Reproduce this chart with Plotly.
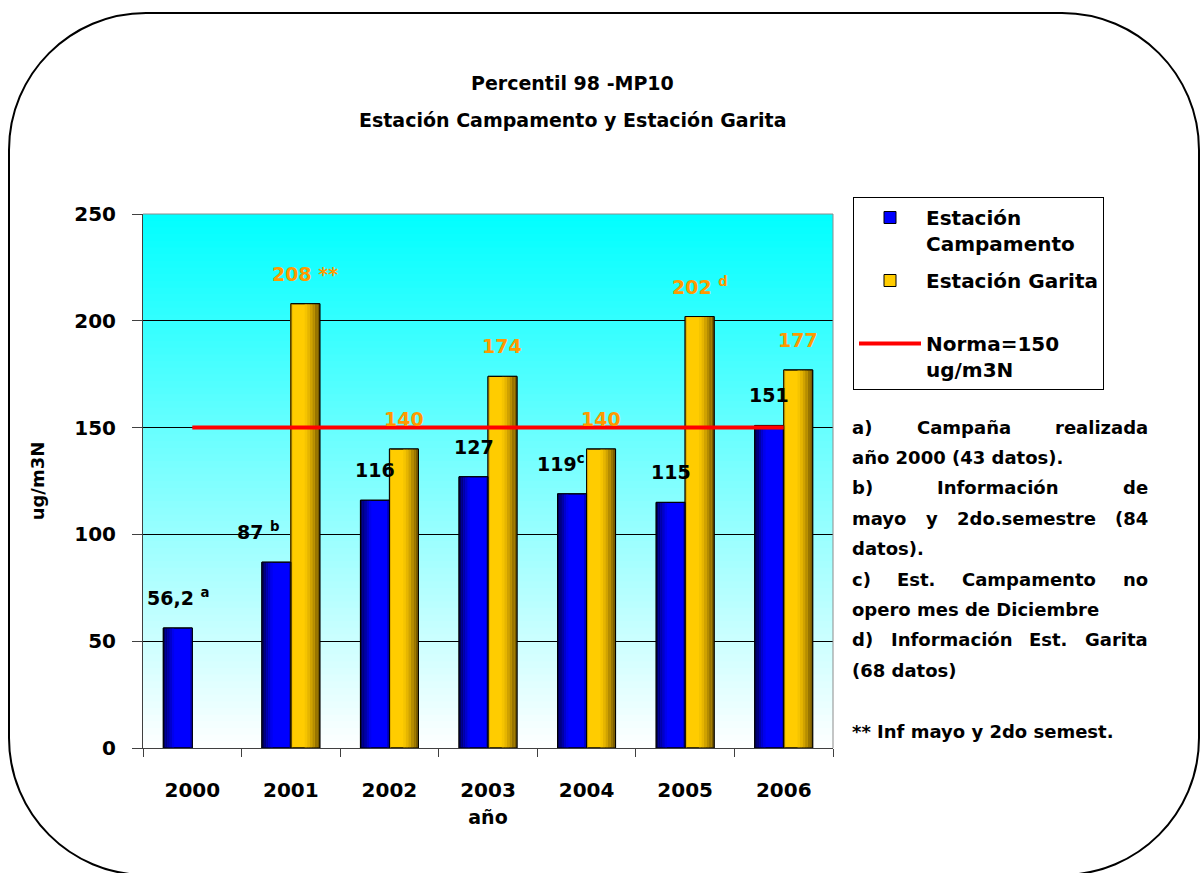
import plotly.graph_objects as go

# ---------------------------------------------------------------- data
years = ["2000", "2001", "2002", "2003", "2004", "2005", "2006"]
campamento = [56.2, 87, 116, 127, 119, 115, 151]
garita = [None, 208, 140, 174, 140, 202, 177]
norma = [150, 150, 150, 150, 150, 150, 150]

# footnote marks appended to the value labels
campamento_marks = [" <sup>a</sup>", " <sup>b</sup>", "", "", "<sup>c</sup>", "", ""]
garita_marks = ["", " **", "", "", "", " <sup>d</sup>", ""]

# side notes: (text, justified)
notes = [
    ("a) Campaña realizada", True),
    ("año 2000 (43 datos).", False),
    ("b) Información de", True),
    ("mayo y 2do.semestre (84", True),
    ("datos).", False),
    ("c) Est. Campamento no", True),
    ("opero mes de Diciembre", False),
    ("d) Información Est. Garita", True),
    ("(68 datos)", False),
    ("", False),
    ("** Inf mayo y 2do semest.", False),
]

# ---------------------------------------------------------------- geometry
W, H = 1200, 873
ML, MR, MT, MB = 143, 367, 214, 125
PW = W - ML - MR
PH = H - MT - MB
FONT = "DejaVu Sans"
BAR_W = 0.294


def fx(px):
    return (px - ML) / PW


def fy(py):
    return (H - MB - py) / PH


def fmt(v):
    return f"{v:g}".replace(".", ",")


fig = go.Figure()

# ---------------------------------------------------------------- bars
fig.add_trace(go.Bar(
    x=years, y=campamento, offset=-BAR_W, width=BAR_W,
    marker=dict(color="#0000FF", line=dict(color="black", width=1)),
    name="Estación<br>Campamento", legendgroup="camp", hoverinfo="skip"))
fig.add_trace(go.Bar(
    x=years, y=garita, offset=0, width=BAR_W,
    marker=dict(color="#FFCC00", line=dict(color="black", width=1)),
    name="Estación Garita<br> ", legendgroup="gar", hoverinfo="skip"))

# cylinder-like shading strips
blue_strips = [(-BAR_W + i * 0.022, 0.022, c) for i, c in
               enumerate(["#00005A", "#000080", "#0000A6", "#0000CC", "#0000EE"])]
blue_strips.append((-0.016, 0.016, "#0000C8"))
gold_strips = [(0.0, 0.016, "#E0B000")]
gold_strips += [(0.14 + i * 0.02567, 0.02567, c) for i, c in
                enumerate(["#F5C400", "#E6B500", "#D0A200", "#B58C00", "#987400", "#7A5C00"])]
for off, wd, col in blue_strips:
    fig.add_trace(go.Bar(x=years, y=campamento, offset=off, width=wd,
                         marker=dict(color=col, line=dict(width=0)),
                         showlegend=False, hoverinfo="skip"))
for off, wd, col in gold_strips:
    fig.add_trace(go.Bar(x=years, y=garita, offset=off, width=wd,
                         marker=dict(color=col, line=dict(width=0)),
                         showlegend=False, hoverinfo="skip"))
# outlines on top of the shading
for vals, off in ((campamento, -BAR_W), (garita, 0)):
    fig.add_trace(go.Bar(x=years, y=vals, offset=off, width=BAR_W,
                         marker=dict(color="rgba(0,0,0,0)", line=dict(color="black", width=1)),
                         showlegend=False, hoverinfo="skip"))

# limit line
fig.add_trace(go.Scatter(
    x=years, y=norma, mode="lines", line=dict(color="#FF0000", width=4),
    name="Norma=150<br>ug/m3N", legendgroup="norma", hoverinfo="skip"))

# ---------------------------------------------------------------- value labels
annotations = []
label_nudge = {("c", 1): -18, ("c", 4): -11}
for i, v in enumerate(campamento):
    if v is None:
        continue
    annotations.append(dict(
        x=i - BAR_W / 2, y=v, xref="x", yref="y", text=fmt(v) + campamento_marks[i],
        showarrow=False, yanchor="bottom", yshift=17, xshift=label_nudge.get(("c", i), 0),
        font=dict(family=FONT, size=19, color="black", weight="bold")))
for i, v in enumerate(garita):
    if v is None:
        continue
    annotations.append(dict(
        x=i + BAR_W / 2, y=v, xref="x", yref="y", text=fmt(v) + garita_marks[i],
        showarrow=False, yanchor="bottom", yshift=17, xshift=label_nudge.get(("g", i), 0),
        font=dict(family=FONT, size=19, color="#FF9900", weight="bold")))

# ---------------------------------------------------------------- titles
for text, ypx in (("Percentil 98 -MP10", 83), ("Estación Campamento y Estación Garita", 120)):
    annotations.append(dict(
        x=fx(572), y=fy(ypx), xref="paper", yref="paper", text=text, showarrow=False,
        xanchor="center", yanchor="middle",
        font=dict(family=FONT, size=19, color="black", weight="bold")))

# ---------------------------------------------------------------- side notes
NOTE_SIZE = 18
CHAR_EM = {
    " ": .348, "a": .675, "b": .716, "c": .593, "d": .716, "e": .678, "f": .435,
    "g": .716, "h": .712, "i": .343, "j": .343, "k": .665, "l": .343, "m": 1.042,
    "n": .712, "o": .687, "p": .716, "q": .716, "r": .493, "s": .595, "t": .478,
    "u": .712, "v": .652, "w": .924, "x": .645, "y": .652, "z": .582, "ñ": .712,
    "ó": .687, "(": .457, ")": .457, ".": .380, "*": .500, "A": .774, "C": .734,
    "D": .830, "E": .683, "G": .821, "I": .372, "N": .837, "M": .995, "P": .733,
}


def text_width(s):
    return sum(CHAR_EM.get(ch, .696) for ch in s) * NOTE_SIZE


NOTE_LEFT, NOTE_RIGHT = 850, 1146
NOTE_TOP, NOTE_STEP = 427, 30.4
note_font = dict(family=FONT, size=NOTE_SIZE, color="black", weight="bold")
for row, (line, justified) in enumerate(notes):
    if not line:
        continue
    ypx = NOTE_TOP + row * NOTE_STEP
    words = line.split(" ")
    if justified and len(words) > 1:
        widths = [text_width(w) for w in words]
        gap = (NOTE_RIGHT - NOTE_LEFT - sum(widths)) / (len(words) - 1)
        xpos = NOTE_LEFT
        for w, wd in zip(words, widths):
            annotations.append(dict(
                x=fx(xpos), y=fy(ypx), xref="paper", yref="paper", text=w,
                showarrow=False, xanchor="left", yanchor="middle", font=note_font))
            xpos += wd + gap
    else:
        annotations.append(dict(
            x=fx(NOTE_LEFT), y=fy(ypx), xref="paper", yref="paper", text=line,
            showarrow=False, xanchor="left", yanchor="middle", font=note_font))

# ---------------------------------------------------------------- shapes
shapes = []
# vertical cyan-to-white gradient behind the plot area (bands overlap to hide seams)
N_BANDS = 80
for k in range(N_BANDS):
    t = (k + 0.5) / N_BANDS
    r = int(round(255 * (1 - t)))
    shapes.append(dict(
        type="rect", xref="x domain", yref="y domain", x0=0, x1=1,
        y0=k / N_BANDS, y1=min(1.0, (k + 1.6) / N_BANDS), layer="below",
        fillcolor=f"rgb({r},255,255)", line=dict(width=0)))
# grey top and right edges of the plot area
shapes.append(dict(type="line", xref="paper", yref="paper", x0=0, x1=1, y0=1, y1=1,
                   line=dict(color="#8C8C8C", width=1), layer="above"))
shapes.append(dict(type="line", xref="paper", yref="paper", x0=1, x1=1, y0=0, y1=1,
                   line=dict(color="#8C8C8C", width=1), layer="above"))


# rounded outer frame
def P(x, y):
    return f"{fx(x):.5f},{fy(y):.5f}"


L_, R_, T_, B_ = 9, 1199, 13, 875
RAD = 137
K = 0.5523 * RAD
frame = (
    f"M {P(L_ + RAD, T_)} L {P(R_ - RAD, T_)} "
    f"C {P(R_ - RAD + K, T_)} {P(R_, T_ + RAD - K)} {P(R_, T_ + RAD)} "
    f"L {P(R_, B_ - RAD)} "
    f"C {P(R_, B_ - RAD + K)} {P(R_ - RAD + K, B_)} {P(R_ - RAD, B_)} "
    f"L {P(L_ + RAD, B_)} "
    f"C {P(L_ + RAD - K, B_)} {P(L_, B_ - RAD + K)} {P(L_, B_ - RAD)} "
    f"L {P(L_, T_ + RAD)} "
    f"C {P(L_, T_ + RAD - K)} {P(L_ + RAD - K, T_)} {P(L_ + RAD, T_)} Z"
)
shapes.append(dict(type="path", xref="paper", yref="paper", path=frame,
                   line=dict(color="black", width=2), layer="above"))

# ---------------------------------------------------------------- layout
fig.update_layout(
    width=W, height=H,
    margin=dict(l=ML, r=MR, t=MT, b=MB, autoexpand=False),
    paper_bgcolor="white", plot_bgcolor="rgba(0,0,0,0)",
    barmode="overlay",
    showlegend=True,
    legend=dict(
        x=fx(853), y=fy(197), xanchor="left", yanchor="top",
        bgcolor="white", bordercolor="black", borderwidth=1,
        font=dict(family=FONT, size=20, color="black", weight="bold"),
        valign="top", traceorder="grouped", tracegroupgap=8, itemwidth=62),
    xaxis=dict(
        type="category", range=[-0.5, 6.5], tickson="boundaries",
        ticks="outside", ticklen=8, tickcolor="#404040",
        showline=True, linecolor="#404040", linewidth=1, showgrid=False,
        ticklabelstandoff=24,
        tickfont=dict(family=FONT, size=20, color="black", weight="bold"),
        title=dict(text="año", standoff=9,
                   font=dict(family=FONT, size=19, color="black", weight="bold"))),
    yaxis=dict(
        range=[0, 250], tickvals=[0, 50, 100, 150, 200, 250],
        ticks="outside", ticklen=10, tickcolor="#404040",
        showline=True, linecolor="#404040", linewidth=1,
        showgrid=True, gridcolor="black", gridwidth=1, zeroline=False,
        ticklabelstandoff=12,
        tickfont=dict(family=FONT, size=20, color="black", weight="bold"),
        title=dict(text="ug/m3N", standoff=24,
                   font=dict(family=FONT, size=18, color="black", weight="bold"))),
    annotations=annotations,
    shapes=shapes,
)

fig.write_html("out.html")
